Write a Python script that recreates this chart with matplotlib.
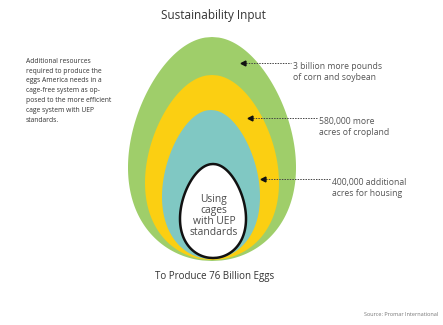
import numpy as np
import matplotlib
matplotlib.use("Agg")
import matplotlib.pyplot as plt

# ---- data ----
title = "Sustainability Input"
subtitle = "To Produce 76 Billion Eggs"
source = "Source: Promar International"
left_note = ("Additional resources\nrequired to produce the\neggs America needs in a\n"
             "cage-free system as op-\nposed to the more efficient\ncage system with UEP\nstandards.")
layer_labels = ["3 billion more pounds\nof corn and soybean",
                "580,000 more\nacres of cropland",
                "400,000 additional\nacres for housing"]
inner_label = "Using\ncages\nwith UEP\nstandards"

# egg layers (outer -> inner): top y, bottom y, half width, colour  (pixel space)
egg_top = [37, 75, 110, 164]
egg_bottom = [261, 260, 259, 258]
egg_halfw = [84, 67, 49, 33]
egg_cx = [212, 212, 211, 213]
egg_colors = ["#9fce6a", "#fbcf12", "#80c8c3", "#ffffff"]

# annotation arrows: head x, tail x, y ; text x
arrow_head_x = [243, 250, 263]
arrow_tail_x = [291, 317, 330]
arrow_y = [63, 118, 179]
label_x = [293, 319, 332]

plt.rcParams['font.family'] = ['Open Sans', 'DejaVu Sans']

fig = plt.figure(figsize=(4.43, 3.25), dpi=100)
ax = fig.add_axes([0, 0, 1, 1])
ax.set_xlim(0, 443)
ax.set_ylim(325, 0)
ax.axis("off")


def egg(cx, top, bottom, hw, k=0.35, n=400):
    s = np.linspace(0, 1, n)  # 0 bottom, 1 top
    g = np.sqrt(np.clip(s * (1 - s), 0, None)) * (1 - k * (s - 0.5))
    g = g / g.max() * hw
    y = bottom - s * (bottom - top)
    xs = np.concatenate([cx + g, (cx - g)[::-1]])
    ys = np.concatenate([y, y[::-1]])
    return xs, ys


for i, (t, b, w, c, cx) in enumerate(zip(egg_top, egg_bottom, egg_halfw, egg_colors, egg_cx)):
    xs, ys = egg(cx, t, b, w)
    if i == len(egg_top) - 1:
        ax.fill(xs, ys, color=c, ec="#111111", lw=1.8, zorder=2 + i)
    else:
        ax.fill(xs, ys, color=c, ec="none", zorder=2 + i)

ax.text(213, 16, title, ha="center", va="center", fontsize=8.5, color="#333333")
ax.text(215, 277, subtitle, ha="center", va="center", fontsize=7, color="#333333")
ax.text(438, 315, source, ha="right", va="center", fontsize=4, color="#777777")
ax.text(26, 58, left_note, ha="left", va="top", fontsize=4.9, color="#333333",
        linespacing=1.55)
ax.text(214, 216, inner_label, ha="center", va="center", fontsize=7.4, color="#4a4a4a",
        linespacing=1.0, zorder=10)

for hx, tx, y, lx, lab in zip(arrow_head_x, arrow_tail_x, arrow_y, label_x, layer_labels):
    ax.plot([hx, tx], [y, y], color="#444444", lw=0.7, ls=(0, (1.5, 1.2)), zorder=10)
    ax.plot([hx], [y], marker="<", ms=3.5, color="#111111", zorder=11)
    ax.text(lx, y - 1, lab, ha="left", va="top", fontsize=6.2, color="#555555",
            linespacing=1.25, zorder=10)

fig.savefig("out.png", dpi=100, facecolor="white")
